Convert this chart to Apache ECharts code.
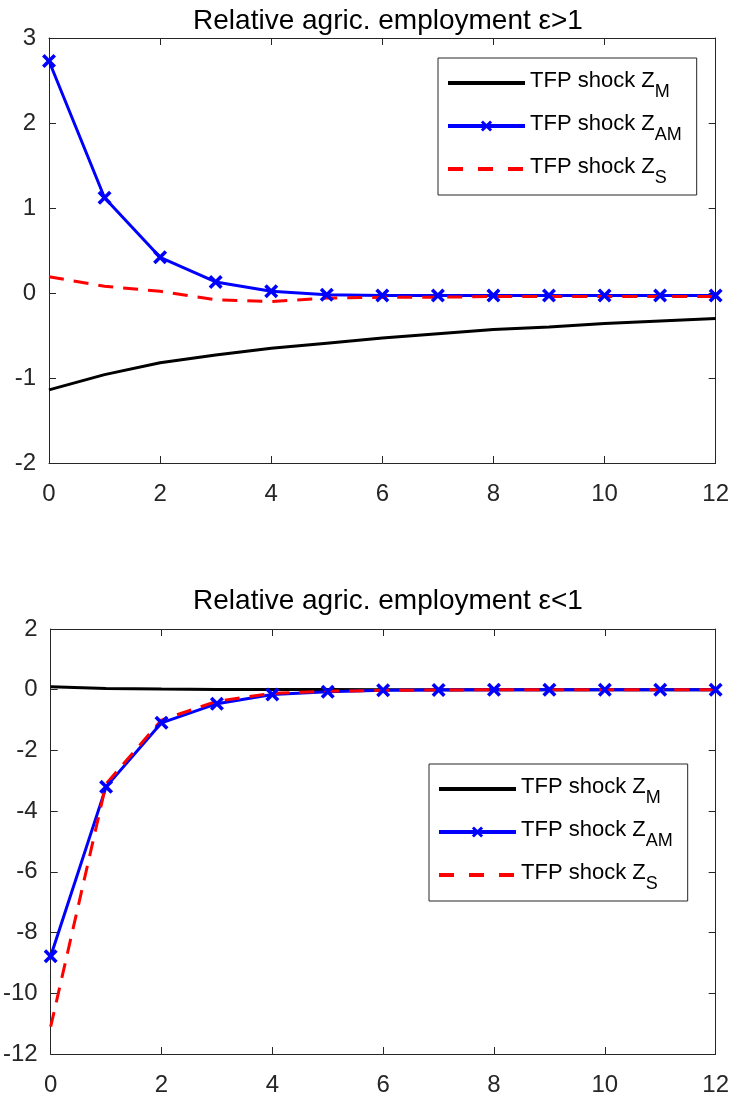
<!DOCTYPE html>
<html>
<head>
<meta charset="utf-8">
<script src="https://cdn.jsdelivr.net/npm/echarts@6/dist/echarts.min.js"></script>
<style>
html,body{margin:0;padding:0;background:#fff;}
#chart{width:732px;height:1097px;}
</style>
</head>
<body>
<div id="chart"></div>
<script>
// ---- data ----
const periods = [0,1,2,3,4,5,6,7,8,9,10,11,12];
const titles = ['Relative agric. employment \u03b5>1', 'Relative agric. employment \u03b5<1'];
const seriesNames = ['TFP shock Z_M', 'TFP shock Z_AM', 'TFP shock Z_S'];
const topZM  = [-1.14,-0.96,-0.82,-0.73,-0.65,-0.59,-0.53,-0.48,-0.43,-0.40,-0.36,-0.33,-0.30];
const topZAM = [2.73,1.12,0.42,0.13,0.02,-0.02,-0.03,-0.03,-0.03,-0.03,-0.03,-0.03,-0.03];
const topZS  = [0.19,0.08,0.02,-0.08,-0.10,-0.06,-0.05,-0.05,-0.04,-0.04,-0.04,-0.04,-0.04];
const botZM  = [0.10,0.04,0.02,0.01,0.01,0.01,0.00,0.00,0.00,0.00,0.00,0.00,0.00];
const botZAM = [-8.78,-3.20,-1.09,-0.46,-0.16,-0.07,-0.02,-0.01,0.00,0.00,0.00,0.00,0.00];
const botZS  = [-11.1,-3.10,-1.00,-0.38,-0.12,-0.05,-0.02,-0.01,0.00,0.00,0.00,0.00,0.00];
const xTicks = {min:0, max:12, interval:2};
const yTicksTop = {min:-2, max:3, interval:1};
const yTicksBot = {min:-12, max:2, interval:2};

// ---- styles ----
const FONT = 'Liberation Sans';
const AX = '#262626';
const xMark = 'path://M0,1.8 L1.8,0 L5,3.2 L8.2,0 L10,1.8 L6.8,5 L10,8.2 L8.2,10 L5,6.8 L1.8,10 L0,8.2 L3.2,5 Z';
const colors = ['#000000', '#0000ff', '#ff0000'];

const chart = echarts.init(document.getElementById('chart'), null, {renderer:'canvas'});

function pairs(ys){ return periods.map((x,i)=>[x, ys[i]]); }

const grids = [
  {left:49, top:38, width:668, height:425},
  {left:49, top:629, width:668, height:427}
];

function xAxes(gi){
  const base = {type:'value', gridIndex:gi, min:xTicks.min, max:xTicks.max, interval:xTicks.interval,
    axisLine:{show:true, onZero:false, lineStyle:{color:AX, width:1}},
    axisTick:{show:true, inside:true, length:7, lineStyle:{color:AX}},
    splitLine:{show:false}};
  return [
    Object.assign({}, base, {position:'bottom',
      axisLabel:{show:true, color:AX, fontFamily:FONT, fontSize:24, margin:19}}),
    Object.assign({}, base, {position:'top', axisLabel:{show:false}})
  ];
}
function yAxes(gi, t){
  const base = {type:'value', gridIndex:gi, min:t.min, max:t.max, interval:t.interval,
    axisLine:{show:true, onZero:false, lineStyle:{color:AX, width:1}},
    axisTick:{show:true, inside:true, length:7, lineStyle:{color:AX}},
    splitLine:{show:false}};
  return [
    Object.assign({}, base, {position:'left',
      axisLabel:{show:true, color:AX, fontFamily:FONT, fontSize:24, margin:13}}),
    Object.assign({}, base, {position:'right', axisLabel:{show:false}})
  ];
}

function makeSeries(gi, m, am, s){
  return [
    {name:seriesNames[0], type:'line', xAxisIndex:gi*2, yAxisIndex:gi*2, data:pairs(m),
     showSymbol:false, symbol:'none', lineStyle:{color:colors[0], width:3}, itemStyle:{color:colors[0]},
     silent:true, animation:false},
    {name:seriesNames[1], type:'line', xAxisIndex:gi*2, yAxisIndex:gi*2, data:pairs(am),
     symbol:xMark, symbolSize:14, showAllSymbol:true,
     lineStyle:{color:colors[1], width:3}, itemStyle:{color:colors[1]},
     silent:true, animation:false},
    {name:seriesNames[2], type:'line', xAxisIndex:gi*2, yAxisIndex:gi*2, data:pairs(s),
     showSymbol:false, symbol:'none', lineStyle:{color:colors[2], width:3, type:[15,10]}, itemStyle:{color:colors[2]},
     silent:true, animation:false}
  ];
}

function legendFmt(name){
  const parts = name.split('_');
  return '{a|' + parts[0] + '}{s|' + parts[1] + '}';
}
function makeLegend(left, top){
  return {
    show:true, orient:'vertical', left:left, top:top,
    data:[
      {name:seriesNames[0], itemStyle:{opacity:0}, lineStyle:{color:colors[0], width:4}},
      {name:seriesNames[1], lineStyle:{color:colors[1], width:4}},
      {name:seriesNames[2], itemStyle:{opacity:0}, lineStyle:{color:colors[2], width:4, type:[15,15]}}
    ],
    formatter:legendFmt,
    itemWidth:77, itemHeight:14, itemGap:8,
    padding:[8,15,8,8],
    borderColor:'#262626', borderWidth:1, backgroundColor:'#fff',
    selectedMode:false,
    textStyle:{color:'#000', fontFamily:FONT, lineHeight:34,
      rich:{
        a:{fontSize:22, fontFamily:FONT, color:'#000', lineHeight:34, verticalAlign:'top', padding:[4,0,0,0]},
        s:{fontSize:18, fontFamily:FONT, color:'#000', lineHeight:34, verticalAlign:'top', padding:[17,0,0,0]}
      }}
  };
}

const option = {
  backgroundColor:'#fff',
  animation:false,
  title: titles.map((t,i)=>({text:t, left:383, textAlign:'center', top: i===0 ? 2 : 582,
    textStyle:{fontFamily:FONT, fontSize:28, fontWeight:'normal', color:'#000'}})),
  grid: grids,
  xAxis: [...xAxes(0), ...xAxes(1)],
  yAxis: [...yAxes(0, yTicksTop), ...yAxes(1, yTicksBot)],
  legend: [makeLegend(438, 58), makeLegend(429, 764)],
  series: [...makeSeries(0, topZM, topZAM, topZS), ...makeSeries(1, botZM, botZAM, botZS)]
};
chart.setOption(option);
</script>
</body>
</html>
